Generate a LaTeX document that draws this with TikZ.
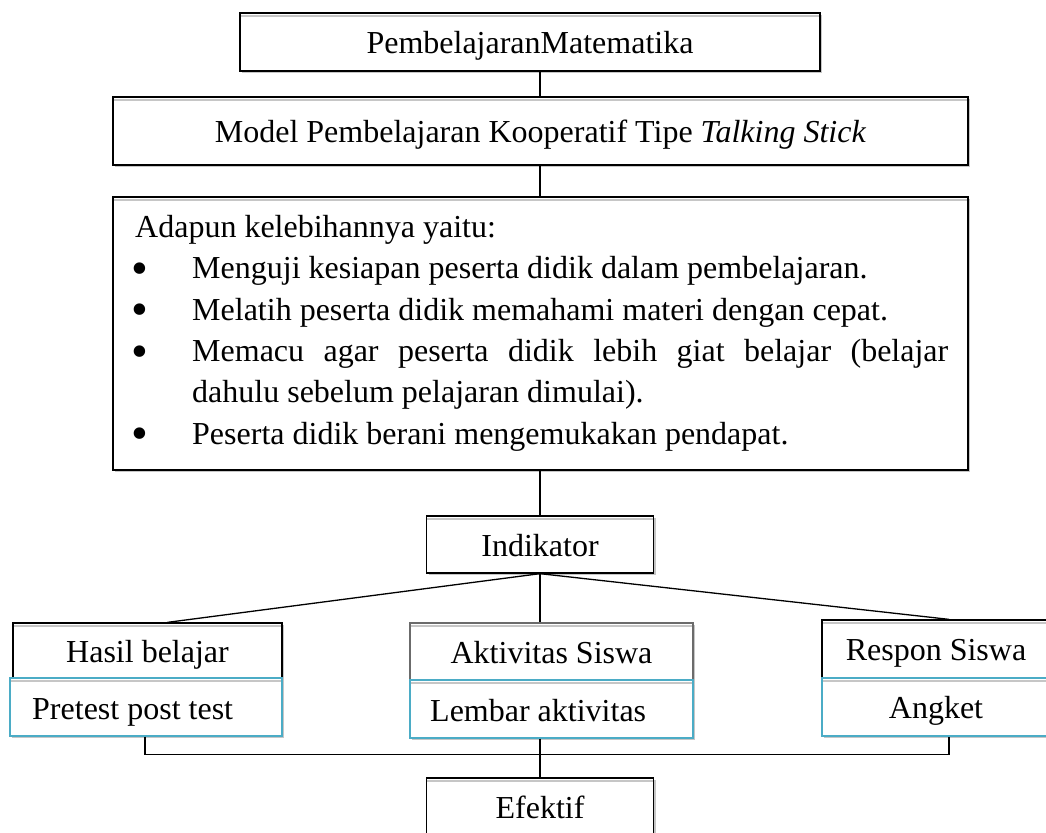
\documentclass[tikz,border=0pt]{standalone}
\usepackage{fontspec}
\setmainfont{Liberation Serif}
\usetikzlibrary{shadows}
\definecolor{accblue}{HTML}{4BACC6}
\definecolor{boxgray}{HTML}{6B6B6B}
\newcommand{\mybul}{\makebox[57pt][l]{\hspace*{-4pt}\raisebox{-0.18em}{\scalebox{1.5}{•}}}}
\tikzset{
  box/.style={draw=black, line width=1.3pt, fill=white, inner sep=0pt,
    text height=23pt, text depth=0pt,
    drop shadow={shadow xshift=2pt, shadow yshift=-2pt, fill=gray!45, opacity=1},
    path picture={\draw[gray!45, line width=1.5pt]
      ([yshift=-3pt]path picture bounding box.north west) --
      ([yshift=-3pt]path picture bounding box.north east);}},
  bluebox/.style={box, draw=accblue},
  graybox/.style={box, draw=boxgray},
  conn/.style={draw=black, line width=1.3pt},
  txt/.style={font=\fontsize{32pt}{41.3pt}\selectfont}
}
\begin{document}
\begin{tikzpicture}[x=1pt, y=-1pt, every node/.style={txt}]
\useasboundingbox (0,0) rectangle (1046,832);
\clip (0,0) rectangle (1046,832);

\node[box, minimum width=580pt, minimum height=58pt] (b1) at (530,42) {PembelajaranMatematika};
\node[box, minimum width=855pt, minimum height=68pt] (b2) at (540.5,131) {Model Pembelajaran Kooperatif Tipe \textit{Talking Stick}};
\node[box, minimum width=855pt, minimum height=273pt] (b3) at (540.5,333.5) {};
\node[anchor=base west, inner sep=0pt, text width=813pt, align=justify] (t3) at (135,237.5)
{Adapun kelebihannya yaitu:\par
\noindent\mybul Menguji kesiapan peserta didik dalam pembelajaran.\par
\noindent\mybul Melatih peserta didik memahami materi dengan cepat.\par
\hangindent=57pt\hangafter=1\noindent\mybul Memacu agar peserta didik lebih giat belajar (belajar\linebreak dahulu sebelum pelajaran dimulai).\par
\noindent\mybul Peserta didik berani mengemukakan pendapat.};

\node[box, minimum width=227pt, minimum height=57pt] (ind) at (540,544.5) {Indikator};

\node[box, minimum width=269pt, minimum height=55pt] (hasil) at (147.5,650.5) {Hasil belajar};
\node[bluebox, minimum width=272pt, minimum height=58pt] (pre) at (146,707) {};
\node[anchor=base west, inner sep=0pt] (pretxt) at (32,719.5) {Pretest post test};

\node[graybox, minimum width=283pt, minimum height=57pt] (akt) at (551.5,651.5) {Aktivitas Siswa};
\node[bluebox, minimum width=283pt, minimum height=58pt] (lem) at (551.5,709) {};
\node[anchor=base west, inner sep=0pt] (lemtxt) at (430,721) {Lembar aktivitas};

\node[box, minimum width=228pt, minimum height=58pt] (res) at (936,649) {Respon Siswa};
\node[bluebox, minimum width=228pt, minimum height=58pt] (ang) at (936,707) {Angket};

\node[box, minimum width=227pt, minimum height=58pt] (ef) at (540,807) {Efektif};

\draw[conn] (b1.south -| ind.north) -- (b2.north -| ind.north);
\draw[conn] (b2.south -| ind.north) -- (b3.north -| ind.north);
\draw[conn] (b3.south -| ind.north) -- (ind.north);
\draw[conn] (ind.south) -- ([xshift=20pt]hasil.north);
\draw[conn] (ind.south) -- (akt.north -| ind.south);
\draw[conn] (ind.south) -- ([xshift=13pt]res.north);
\draw[conn] ([xshift=-1pt]pre.south) -- ++(0,18) -| ([xshift=13pt]ang.south);
\draw[conn] (lem.south -| ind.south) -- (ef.north);
\end{tikzpicture}
\end{document}
